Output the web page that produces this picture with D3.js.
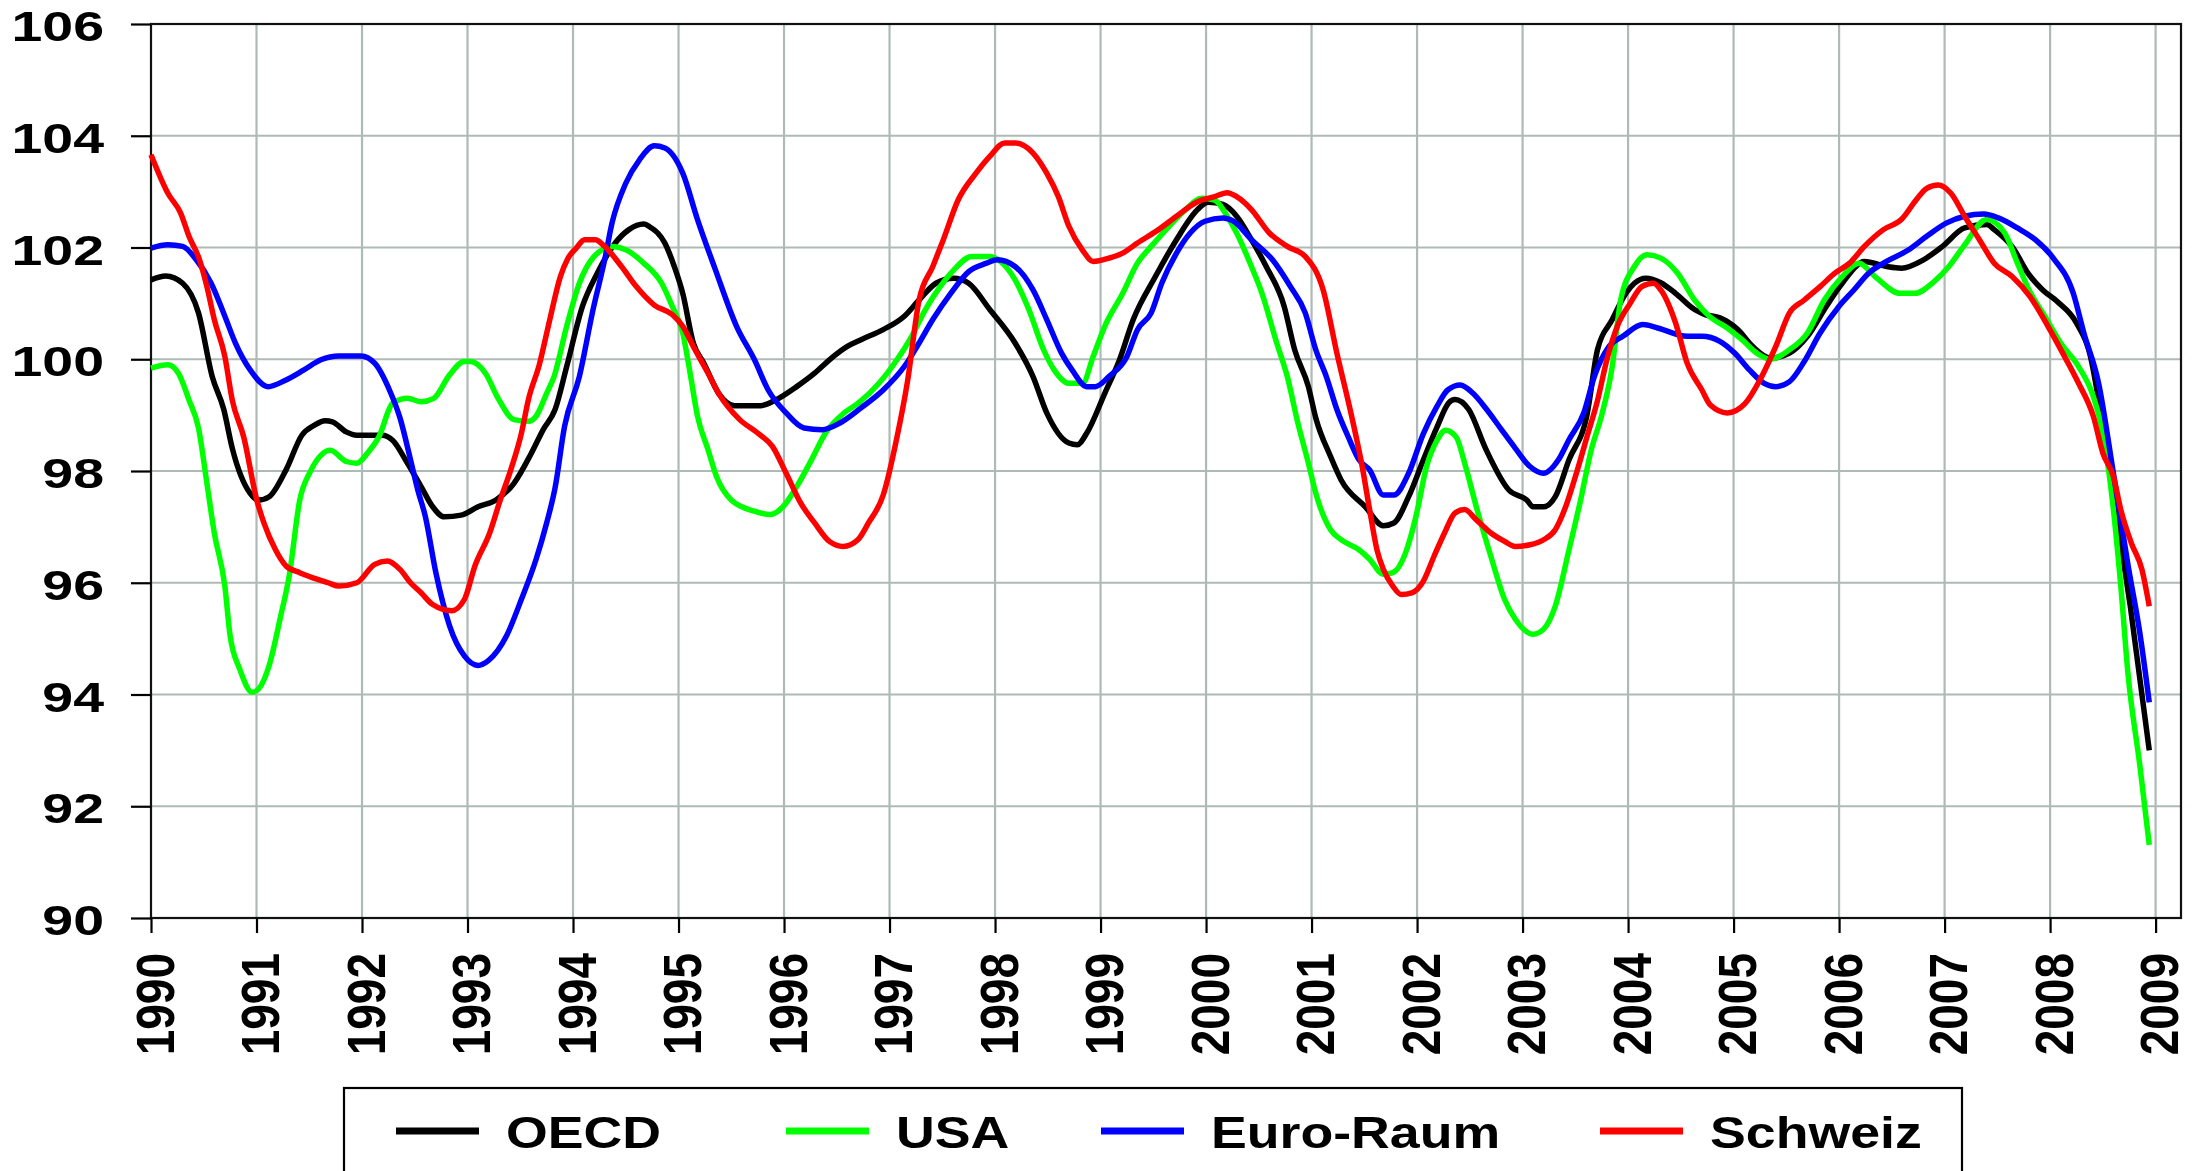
<!DOCTYPE html>
<html>
<head>
<meta charset="utf-8">
<script src="https://cdn.jsdelivr.net/npm/d3@7"></script>
<style>
  body { margin: 0; background: #fff; overflow: hidden; }
  text { font-family: "Liberation Sans", Arial, sans-serif; font-weight: bold; fill: #000; }
</style>
</head>
<body>
<svg id="chart" width="2202" height="1171"></svg>
<script>
// series: [year (decimal), index value]
const years = d3.range(1990, 2010);
const yTicks = d3.range(90, 107, 2);

const oecd = [[1990.0,101.42],[1990.14,101.49],[1990.3,101.36],[1990.45,100.83],[1990.58,99.69],[1990.69,99.1],[1990.77,98.41],[1990.94,97.6],[1991.02,97.48],[1991.12,97.54],[1991.28,98.02],[1991.43,98.64],[1991.55,98.82],[1991.65,98.9],[1991.72,98.88],[1991.85,98.7],[1991.95,98.64],[1992.19,98.64],[1992.29,98.55],[1992.43,98.14],[1992.56,97.72],[1992.67,97.36],[1992.78,97.18],[1992.94,97.21],[1993.1,97.36],[1993.27,97.48],[1993.44,97.78],[1993.6,98.3],[1993.72,98.75],[1993.83,99.1],[1993.94,99.87],[1994.09,100.95],[1994.23,101.54],[1994.4,102.08],[1994.53,102.32],[1994.67,102.42],[1994.72,102.38],[1994.87,102.08],[1994.96,101.66],[1995.04,101.18],[1995.14,100.29],[1995.24,99.93],[1995.38,99.39],[1995.53,99.17],[1995.78,99.17],[1995.92,99.27],[1996.12,99.51],[1996.29,99.75],[1996.43,99.99],[1996.6,100.23],[1996.73,100.35],[1996.94,100.53],[1997.14,100.77],[1997.28,101.06],[1997.44,101.36],[1997.61,101.45],[1997.75,101.36],[1997.95,100.89],[1998.19,100.29],[1998.36,99.69],[1998.49,99.04],[1998.7,98.5],[1998.78,98.47],[1998.87,98.68],[1999.04,99.39],[1999.18,99.99],[1999.31,100.71],[1999.52,101.48],[1999.72,102.14],[1999.92,102.68],[2000.02,102.81],[2000.16,102.77],[2000.29,102.56],[2000.43,102.14],[2000.57,101.66],[2000.74,100.95],[2000.84,100.17],[2000.97,99.51],[2001.04,98.95],[2001.18,98.26],[2001.28,97.84],[2001.51,97.36],[2001.68,97.02],[2001.78,97.07],[2001.92,97.54],[2002.06,98.2],[2002.19,98.79],[2002.3,99.22],[2002.36,99.28],[2002.49,99.1],[2002.65,98.4],[2002.87,97.66],[2003.04,97.48],[2003.1,97.36],[2003.2,97.36],[2003.31,97.54],[2003.44,98.2],[2003.61,99.0],[2003.71,100.17],[2003.85,100.71],[2003.98,101.18],[2004.06,101.36],[2004.17,101.45],[2004.31,101.37],[2004.45,101.18],[2004.63,100.89],[2004.73,100.8],[2004.87,100.74],[2005.04,100.53],[2005.18,100.23],[2005.35,100.02],[2005.53,100.11],[2005.7,100.41],[2005.88,100.95],[2006.03,101.36],[2006.24,101.75],[2006.45,101.66],[2006.59,101.63],[2006.8,101.78],[2006.98,102.02],[2007.19,102.35],[2007.4,102.41],[2007.47,102.32],[2007.65,101.99],[2007.79,101.54],[2007.93,101.24],[2008.07,101.03],[2008.25,100.65],[2008.39,99.99],[2008.46,99.27],[2008.6,97.6],[2008.76,95.58],[2008.94,93.0]];

const usa = [[1990.0,99.84],[1990.16,99.9],[1990.26,99.75],[1990.36,99.27],[1990.45,98.77],[1990.53,97.78],[1990.6,96.89],[1990.7,95.94],[1990.75,95.05],[1990.84,94.46],[1990.96,94.04],[1991.02,94.1],[1991.12,94.52],[1991.23,95.41],[1991.31,96.12],[1991.41,97.48],[1991.51,97.99],[1991.61,98.28],[1991.7,98.37],[1991.85,98.17],[1991.95,98.14],[1992.06,98.34],[1992.16,98.61],[1992.29,99.21],[1992.43,99.3],[1992.56,99.24],[1992.68,99.3],[1992.83,99.72],[1992.97,99.96],[1993.03,99.96],[1993.17,99.75],[1993.29,99.3],[1993.44,98.92],[1993.58,98.89],[1993.65,98.98],[1993.75,99.39],[1993.82,99.69],[1993.94,100.59],[1994.06,101.36],[1994.2,101.84],[1994.37,102.02],[1994.5,101.96],[1994.67,101.72],[1994.84,101.36],[1994.94,100.95],[1995.04,100.47],[1995.11,99.75],[1995.18,98.98],[1995.28,98.38],[1995.36,97.9],[1995.5,97.48],[1995.72,97.28],[1995.87,97.22],[1995.99,97.36],[1996.12,97.72],[1996.26,98.2],[1996.4,98.7],[1996.57,99.04],[1996.7,99.21],[1996.9,99.57],[1997.07,99.99],[1997.21,100.41],[1997.34,100.89],[1997.48,101.3],[1997.61,101.6],[1997.78,101.84],[1997.95,101.84],[1998.05,101.75],[1998.19,101.42],[1998.32,100.89],[1998.46,100.17],[1998.56,99.81],[1998.7,99.57],[1998.83,99.57],[1998.93,100.05],[1999.04,100.59],[1999.21,101.18],[1999.35,101.72],[1999.48,102.02],[1999.65,102.38],[1999.79,102.65],[1999.96,102.88],[2000.08,102.85],[2000.2,102.56],[2000.29,102.26],[2000.43,101.66],[2000.53,101.18],[2000.67,100.29],[2000.77,99.69],[2000.87,98.86],[2000.97,98.14],[2001.04,97.6],[2001.18,96.95],[2001.28,96.77],[2001.45,96.59],[2001.55,96.42],[2001.68,96.15],[2001.77,96.18],[2001.89,96.53],[2001.99,97.19],[2002.09,98.08],[2002.19,98.55],[2002.27,98.73],[2002.37,98.61],[2002.46,98.08],[2002.56,97.37],[2002.7,96.47],[2002.83,95.7],[2002.93,95.35],[2003.1,95.08],[2003.2,95.17],[2003.31,95.58],[2003.44,96.59],[2003.55,97.48],[2003.65,98.37],[2003.75,99.0],[2003.85,99.87],[2003.93,101.06],[2004.06,101.66],[2004.18,101.87],[2004.31,101.81],[2004.47,101.54],[2004.63,101.06],[2004.77,100.77],[2004.94,100.56],[2005.08,100.35],[2005.22,100.11],[2005.35,100.0],[2005.53,100.17],[2005.7,100.47],[2005.86,101.06],[2006.03,101.48],[2006.19,101.72],[2006.34,101.48],[2006.58,101.18],[2006.72,101.18],[2006.9,101.39],[2007.04,101.66],[2007.18,102.02],[2007.4,102.5],[2007.57,102.26],[2007.69,101.72],[2007.8,101.24],[2007.95,100.77],[2008.1,100.29],[2008.27,99.87],[2008.41,99.33],[2008.5,98.68],[2008.6,97.31],[2008.67,95.94],[2008.74,94.34],[2008.85,92.74],[2008.94,91.31]];

const euroRaum = [[1990.0,101.99],[1990.16,102.05],[1990.3,102.02],[1990.43,101.78],[1990.57,101.36],[1990.7,100.77],[1990.8,100.29],[1990.94,99.81],[1991.11,99.51],[1991.28,99.63],[1991.45,99.81],[1991.61,99.99],[1991.78,100.06],[1991.99,100.06],[1992.12,99.93],[1992.26,99.45],[1992.36,98.95],[1992.46,98.2],[1992.53,97.65],[1992.6,97.19],[1992.7,96.18],[1992.83,95.23],[1992.97,94.69],[1993.1,94.52],[1993.2,94.61],[1993.37,95.05],[1993.51,95.7],[1993.65,96.42],[1993.75,97.07],[1993.83,97.7],[1993.92,98.8],[1994.06,99.69],[1994.19,100.89],[1994.3,101.78],[1994.37,102.44],[1994.5,103.15],[1994.63,103.57],[1994.77,103.82],[1994.87,103.78],[1995.04,103.33],[1995.18,102.5],[1995.35,101.6],[1995.55,100.59],[1995.72,99.99],[1995.85,99.45],[1996.02,99.04],[1996.19,98.77],[1996.36,98.74],[1996.53,98.86],[1996.73,99.13],[1996.94,99.45],[1997.14,99.87],[1997.28,100.29],[1997.41,100.71],[1997.58,101.18],[1997.75,101.57],[1997.92,101.72],[1998.02,101.78],[1998.19,101.66],[1998.36,101.24],[1998.49,100.71],[1998.63,100.11],[1998.73,99.81],[1998.87,99.51],[1998.95,99.51],[1999.08,99.69],[1999.25,100.05],[1999.35,100.53],[1999.48,100.83],[1999.58,101.36],[1999.72,101.9],[1999.85,102.26],[1999.99,102.47],[2000.16,102.53],[2000.26,102.47],[2000.43,102.14],[2000.63,101.78],[2000.8,101.3],[2000.94,100.83],[2001.04,100.17],[2001.14,99.69],[2001.24,99.1],[2001.35,98.6],[2001.45,98.2],[2001.55,98.02],[2001.68,97.57],[2001.78,97.57],[2001.92,97.96],[2002.06,98.67],[2002.19,99.16],[2002.29,99.45],[2002.41,99.54],[2002.53,99.39],[2002.66,99.1],[2002.8,98.74],[2002.93,98.41],[2003.07,98.08],[2003.2,97.96],[2003.34,98.2],[2003.44,98.56],[2003.58,99.04],[2003.68,99.69],[2003.82,100.23],[2003.95,100.41],[2004.14,100.62],[2004.28,100.56],[2004.56,100.41],[2004.7,100.41],[2004.87,100.32],[2005.01,100.11],[2005.15,99.81],[2005.29,99.57],[2005.4,99.51],[2005.53,99.6],[2005.67,99.96],[2005.82,100.47],[2006.0,100.95],[2006.14,101.24],[2006.28,101.54],[2006.45,101.75],[2006.66,101.96],[2006.83,102.2],[2007.02,102.44],[2007.19,102.56],[2007.37,102.6],[2007.51,102.53],[2007.69,102.35],[2007.86,102.14],[2008.03,101.81],[2008.22,101.18],[2008.32,100.47],[2008.46,99.57],[2008.6,97.96],[2008.74,96.3],[2008.85,95.11],[2008.94,93.86]];

const schweiz = [[1990.0,103.66],[1990.16,102.97],[1990.28,102.62],[1990.36,102.2],[1990.46,101.78],[1990.53,101.3],[1990.6,100.71],[1990.7,100.05],[1990.77,99.27],[1990.88,98.6],[1991.0,97.5],[1991.07,97.07],[1991.18,96.59],[1991.28,96.3],[1991.41,96.18],[1991.58,96.06],[1991.68,96.0],[1991.78,95.94],[1991.95,96.0],[1992.12,96.33],[1992.24,96.39],[1992.36,96.24],[1992.46,96.0],[1992.56,95.82],[1992.67,95.61],[1992.85,95.5],[1992.97,95.7],[1993.07,96.3],[1993.21,96.89],[1993.31,97.48],[1993.41,98.02],[1993.51,98.67],[1993.58,99.3],[1993.68,99.9],[1993.78,100.71],[1993.88,101.48],[1993.95,101.8],[1994.03,101.99],[1994.11,102.14],[1994.21,102.14],[1994.3,102.02],[1994.46,101.66],[1994.6,101.3],[1994.77,100.97],[1994.94,100.8],[1995.04,100.59],[1995.14,100.23],[1995.28,99.75],[1995.38,99.39],[1995.58,98.92],[1995.75,98.68],[1995.89,98.44],[1996.02,97.96],[1996.16,97.42],[1996.29,97.07],[1996.43,96.74],[1996.56,96.65],[1996.7,96.77],[1996.8,97.07],[1996.94,97.57],[1997.07,98.6],[1997.17,99.6],[1997.28,101.06],[1997.41,101.66],[1997.51,102.14],[1997.65,102.85],[1997.82,103.33],[1997.95,103.63],[1998.09,103.87],[1998.19,103.87],[1998.36,103.69],[1998.49,103.33],[1998.6,102.91],[1998.7,102.38],[1998.83,101.95],[1998.93,101.75],[1999.08,101.81],[1999.21,101.9],[1999.35,102.08],[1999.55,102.32],[1999.72,102.56],[1999.92,102.82],[2000.08,102.91],[2000.2,102.98],[2000.29,102.91],[2000.43,102.68],[2000.6,102.26],[2000.77,102.02],[2000.94,101.84],[2001.11,101.24],[2001.24,100.11],[2001.38,98.98],[2001.48,98.08],[2001.55,97.31],[2001.62,96.59],[2001.68,96.24],[2001.77,95.94],[2001.85,95.79],[2001.95,95.82],[2002.06,96.03],[2002.16,96.47],[2002.26,96.89],[2002.36,97.25],[2002.45,97.31],[2002.56,97.13],[2002.7,96.89],[2002.83,96.74],[2002.93,96.65],[2003.07,96.68],[2003.2,96.77],[2003.31,96.95],[2003.41,97.37],[2003.51,97.96],[2003.61,98.61],[2003.71,99.26],[2003.8,100.0],[2003.9,100.6],[2004.02,101.0],[2004.13,101.3],[2004.24,101.36],[2004.31,101.24],[2004.45,100.65],[2004.56,99.93],[2004.7,99.45],[2004.78,99.18],[2004.94,99.04],[2005.11,99.21],[2005.25,99.63],[2005.4,100.23],[2005.53,100.83],[2005.67,101.06],[2005.82,101.3],[2005.96,101.54],[2006.1,101.72],[2006.24,102.02],[2006.42,102.32],[2006.59,102.5],[2006.73,102.85],[2006.83,103.06],[2006.94,103.12],[2007.06,102.97],[2007.19,102.56],[2007.33,102.14],[2007.47,101.72],[2007.64,101.48],[2007.81,101.12],[2007.98,100.59],[2008.12,100.11],[2008.27,99.57],[2008.41,98.98],[2008.5,98.32],[2008.6,97.9],[2008.67,97.31],[2008.77,96.71],[2008.87,96.24],[2008.94,95.58]];

const seriesNames = ['OECD', 'USA', 'Euro-Raum', 'Schweiz'];
const seriesColors = ['#000000', '#00ff00', '#0000ff', '#ff0000'];
const seriesData = [oecd, usa, euroRaum, schweiz];

// layout
const plotLeft = 151, plotRight = 2181, plotTop = 24, plotBottom = 918;

const svg = d3.select('#chart');

const xScale = d3.scaleLinear()
    .domain([1990, 2009])
    .range([plotLeft, 2155.6]);
const yScale = d3.scaleLinear()
    .domain([90, 106])
    .range([plotBottom, plotTop]);

// grid
const grid = svg.append('g').attr('class', 'grid');
grid.selectAll('line.v')
    .data(years.filter(d => d > 1990))
    .enter().append('line')
    .attr('x1', d => xScale(d)).attr('x2', d => xScale(d))
    .attr('y1', plotTop).attr('y2', plotBottom)
    .attr('stroke', '#aebab6').attr('stroke-width', 2.2);
grid.selectAll('line.h')
    .data(yTicks.filter(d => d > 90 && d < 106))
    .enter().append('line')
    .attr('x1', plotLeft).attr('x2', plotRight)
    .attr('y1', d => yScale(d)).attr('y2', d => yScale(d))
    .attr('stroke', '#aebab6').attr('stroke-width', 2.2);

// plot frame
svg.append('rect')
    .attr('x', plotLeft).attr('y', plotTop)
    .attr('width', plotRight - plotLeft).attr('height', plotBottom - plotTop)
    .attr('fill', 'none').attr('stroke', '#111').attr('stroke-width', 2.2);

// y axis
const yAxis = svg.append('g')
    .attr('transform', `translate(${plotLeft},0)`)
    .call(d3.axisLeft(yScale).tickValues(yTicks).tickSize(20).tickSizeOuter(0).tickFormat(d3.format('d')));
yAxis.select('.domain').remove();
yAxis.selectAll('.tick line').attr('stroke', '#000').attr('stroke-width', 2.2);
yAxis.selectAll('.tick text')
    .attr('x', null).attr('dy', null)
    .attr('text-anchor', 'end')
    .attr('font-size', 43)
    .attr('font-family', '"Liberation Sans", Arial, sans-serif')
    .attr('font-weight', 'bold')
    .attr('transform', 'translate(-47,16.5) scale(1.29,1)');

// x axis
const xAxis = svg.append('g')
    .attr('transform', `translate(0,${plotBottom})`)
    .call(d3.axisBottom(xScale).tickValues(years).tickSize(15).tickSizeOuter(0).tickFormat(d3.format('d')));
xAxis.select('.domain').remove();
xAxis.selectAll('.tick line').attr('stroke', '#000').attr('stroke-width', 2.2);
xAxis.selectAll('.tick text')
    .attr('x', 0).attr('y', 19).attr('dy', null)
    .attr('text-anchor', 'end')
    .attr('font-size', 46)
    .attr('font-family', '"Liberation Sans", Arial, sans-serif')
    .attr('font-weight', 'bold')
    .attr('transform', 'translate(0,35) scale(1.17,1) rotate(-90)');

// series lines
const line = d3.line()
    .x(d => xScale(d[0]))
    .y(d => yScale(d[1]))
    .curve(d3.curveMonotoneX);

svg.append('g').selectAll('path')
    .data(seriesData)
    .enter().append('path')
    .attr('d', line)
    .attr('fill', 'none')
    .attr('stroke', (d, i) => seriesColors[i])
    .attr('stroke-width', 5.5)
    .attr('stroke-linejoin', 'round');

// legend
const legend = svg.append('g');
legend.append('rect')
    .attr('x', 344).attr('y', 1088)
    .attr('width', 1618).attr('height', 200)
    .attr('fill', '#fff').attr('stroke', '#000').attr('stroke-width', 2.2);

const legendX = [396, 786, 1101, 1600];
const entries = legend.selectAll('g.entry')
    .data(seriesNames)
    .enter().append('g')
    .attr('transform', (d, i) => `translate(${legendX[i]},0)`);
entries.append('line')
    .attr('x1', 0).attr('x2', 83)
    .attr('y1', 1131).attr('y2', 1131)
    .attr('stroke', (d, i) => seriesColors[i])
    .attr('stroke-width', 7);
entries.append('text')
    .attr('transform', 'translate(110,1148) scale(1.22,1)')
    .attr('font-size', 44)
    .text(d => d);
</script>
</body>
</html>
